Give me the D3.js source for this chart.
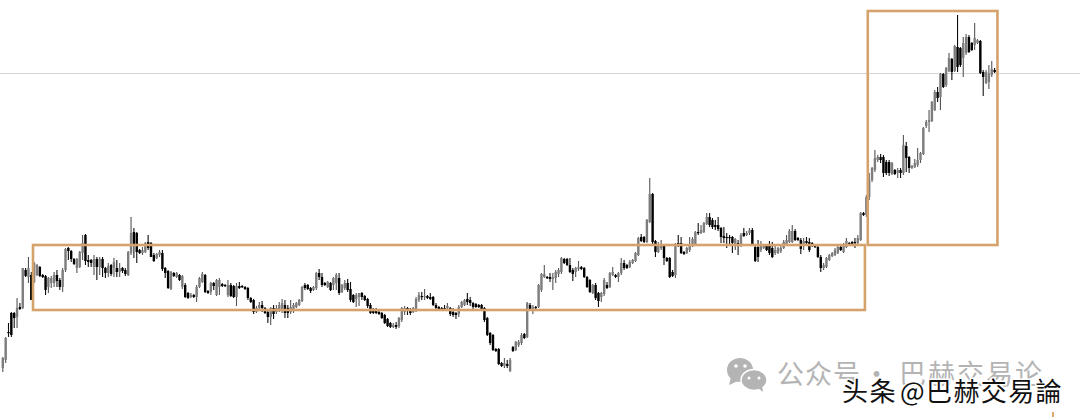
<!DOCTYPE html>
<html>
<head>
<meta charset="utf-8">
<script src="https://cdn.jsdelivr.net/npm/d3@7"></script>
<style>
  html, body { margin: 0; padding: 0; background: #fff; overflow: hidden; }
  svg { display: block; }
</style>
</head>
<body>
<div id="chartArea"></div>
<script>
// candle prices, one row = 10 candles
const opens = [
  49,57,85,104,104,100,110,109,147,140, 142,135,142,150,142,141,130,134,134,142,
  137,130,147,169,166,158,149,150,164,182, 157,157,150,158,150,158,149,144,152,149,
  149,145,149,147,142,164,185,184,167,164, 165,175,174,162,159,162,164,149,146,128,
  144,140,142,130,132,124,120,122,120,130, 135,142,126,125,134,122,130,133,132,122,
  132,131,120,131,131,130,129,119,117,105, 109,112,109,105,100,109,105,107,108,112,
  109,105,106,110,112,116,132,132,129,127, 129,144,140,134,130,134,132,134,139,125,
  129,134,128,122,118,120,124,121,118,112, 108,108,105,104,102,98,94,90,92,91,
  97,105,109,108,105,107,117,121,120,121, 120,120,112,110,109,109,109,109,105,104,
  103,110,112,118,117,114,113,112,112,109, 99,84,82,68,68,54,51,53,46,70,
  67,72,74,83,80,112,106,110,110,127, 140,140,140,138,139,143,145,158,158,152,
  147,145,148,150,149,140,137,124,132,124, 120,123,132,130,142,142,140,144,154,152,
  150,154,156,162,180,180,175,195,223,176, 165,169,171,159,159,145,142,174,174,165,
  164,167,172,173,185,184,185,193,200,197, 192,192,189,181,180,180,180,172,174,173,
  184,182,184,187,170,170,167,169,171,171, 169,164,164,166,169,173,175,175,186,179,
  177,173,176,175,174,171,170,160,149,150, 157,161,162,164,170,165,170,174,175,175,
  174,177,204,202,220,237,247,257,260,260, 255,255,243,247,244,247,244,271,260,249,
  250,252,257,263,291,295,296,307,325,320, 343,332,346,358,346,370,369,359,364,380,
  374,372,374,376,345,334,335,342,347
]
const highs = [
  60,80,94,105,105,119,114,149,149,160, 145,155,153,151,143,142,140,141,145,147,
  139,149,169,170,167,159,159,166,182,183, 162,158,162,160,160,160,150,154,153,159,
  157,154,150,149,166,200,189,185,168,170, 175,182,175,164,164,167,167,150,147,146,
  145,145,143,142,134,125,124,123,132,140, 145,143,127,135,135,138,139,134,133,137,
  134,132,134,135,132,131,130,120,118,111, 115,116,110,107,110,112,112,115,118,117,
  112,117,114,115,118,131,134,133,130,131, 145,148,144,135,136,135,140,144,144,133,
  137,138,135,123,124,124,125,122,119,114, 109,109,106,105,103,99,95,94,95,100,
  110,111,110,109,110,120,125,125,128,122, 124,121,114,111,110,112,114,110,109,105,
  112,116,118,124,120,115,114,113,113,110, 100,85,83,69,69,55,59,57,59,71,
  76,77,84,84,115,114,112,111,133,144, 152,141,144,144,147,149,160,159,159,159,
  149,150,156,151,150,141,138,133,134,125, 125,139,135,145,150,143,145,159,157,153,
  157,158,165,180,183,181,198,239,224,177, 175,177,172,160,160,147,174,182,180,166,
  170,180,180,186,194,192,195,204,204,199, 197,200,190,190,184,182,181,179,177,184,
  189,186,189,189,172,177,176,172,172,176, 175,172,170,172,177,182,188,192,188,180,
  179,179,180,179,175,172,171,162,154,160, 163,165,169,171,171,174,179,175,176,179,
  182,205,205,222,244,250,267,262,263,262, 257,257,255,248,249,249,282,275,261,252,
  258,269,265,290,297,307,316,327,330,344, 344,350,364,359,372,402,370,380,383,382,
  375,394,378,377,347,347,352,356,349
]
const lows = [
  45,54,80,80,89,89,107,108,140,134, 117,134,141,140,139,122,124,129,130,130,
  127,125,145,157,155,152,144,149,157,152, 150,150,142,137,142,140,139,140,141,140,
  140,140,144,141,141,162,159,154,163,162, 164,167,160,155,158,160,146,139,128,127,
  140,139,136,128,119,118,119,119,115,129, 134,124,123,122,127,121,122,130,130,120,
  120,119,111,128,129,127,117,114,103,104, 106,105,103,94,92,98,103,105,104,99,
  99,103,104,109,111,115,127,127,124,126, 127,137,130,131,129,126,127,127,122,124,
  127,125,115,114,110,111,117,116,109,103, 103,103,102,98,93,90,89,89,88,89,
  95,102,102,102,104,105,115,117,117,118, 117,111,106,107,107,106,107,101,100,98,
  100,109,111,112,111,107,109,109,107,95, 81,72,66,65,52,50,49,49,45,65,
  66,70,72,78,79,107,103,108,109,125, 139,138,135,127,134,140,143,153,151,144,
  136,140,146,147,139,129,124,123,117,110, 115,121,128,129,141,139,135,142,147,148,
  149,153,155,161,175,174,174,194,172,160, 164,167,152,155,139,140,139,170,163,162,
  163,165,170,172,182,183,184,192,190,188, 187,186,174,174,169,172,164,167,162,170,
  180,181,182,171,155,155,165,168,166,162, 159,162,163,164,168,171,174,174,176,176,
  163,167,172,165,170,169,159,145,147,149, 156,160,161,163,166,164,169,171,171,169,
  172,176,201,200,217,235,245,255,254,240, 242,241,242,242,239,239,242,245,244,248,
  249,250,254,262,289,285,295,306,315,307, 329,330,345,337,345,345,350,340,362,364,
  366,367,373,343,321,333,328,340,344
]
const closes = [
  59,79,84,82,99,109,108,149,141,149, 117,154,152,141,140,127,139,139,142,136,
  130,147,168,166,158,153,158,165,174,156, 155,154,158,150,158,149,144,151,143,155,
  145,149,146,143,165,184,172,165,164,167, 174,169,160,156,163,165,148,144,129,145,
  141,144,137,141,120,119,122,120,130,139, 143,125,124,134,131,137,137,131,131,132,
  121,120,131,129,130,128,119,115,105,109, 112,109,104,100,109,103,109,112,114,104,
  104,110,112,114,117,130,129,128,126,130, 144,140,132,132,135,127,139,142,124,132,
  134,127,117,115,122,124,120,117,111,104, 104,104,103,99,94,91,90,92,90,99,
  109,109,106,104,109,118,122,120,121,119, 118,112,109,108,108,108,111,103,102,102,
  110,115,117,115,114,110,110,110,108,97, 82,74,67,66,53,51,54,51,57,66,
  75,75,82,79,114,108,110,109,132,143, 143,139,138,140,145,147,159,154,152,145,
  143,149,150,148,140,130,125,132,119,116, 124,137,129,144,145,140,144,154,149,149,
  155,157,164,179,176,175,197,223,175,165, 172,172,159,156,140,141,173,172,164,163,
  169,172,178,185,184,187,194,200,192,190, 190,188,180,179,179,179,174,178,171,182,
  181,184,187,172,156,160,171,171,167,164, 160,167,169,169,175,177,186,186,177,177,
  168,176,174,167,171,170,160,149,152,159, 162,164,167,170,167,172,176,172,172,174,
  179,204,202,220,237,249,259,260,257,244, 244,244,254,243,247,244,272,259,249,251,
  254,257,264,289,295,297,315,325,319,343, 330,349,359,345,371,350,352,374,380,365,
  367,379,377,344,340,345,343,348,345
]

// range boxes and the horizontal level, in candle index / price
const boxStart = [10.6, 303.5]
const boxEnd = [302.5, 349]
const boxTop = [172, 406]
const boxBottom = [107, 172]
const levelPrice = 343.5

let width = 1080
let height = 417

const svg = d3.select('#chartArea')
              .append('svg')
              .attr('width', width)
              .attr('height', height)

// the source is a soft jpeg, so blur the marks a touch
const soft = svg.append('defs').append('filter')
                .attr('id', 'soft')
                .attr('x', '-5%').attr('y', '-5%')
                .attr('width', '110%').attr('height', '110%')
soft.append('feGaussianBlur').attr('stdDeviation', 0.35)

let x = d3.scaleLinear().domain([0, 348]).range([2.8, 994.6])
let y = d3.scaleLinear().domain([0, 417]).range([417, 0])

// level line sits behind everything
svg.append('line')
   .attr('x1', 0)
   .attr('x2', width)
   .attr('y1', y(levelPrice))
   .attr('y2', y(levelPrice))
   .attr('stroke', '#d8d6d2')
   .attr('stroke-width', 1)

const candle = svg.append('g')
                  .attr('filter', 'url(#soft)')
                  .selectAll('.candle')
                  .data(closes)
                  .enter().append('g')
                  .attr('class', 'candle')

candle.append('line')
      .attr('x1', function(d, i) { return x(i) })
      .attr('x2', function(d, i) { return x(i) })
      .attr('y1', function(d, i) { return y(highs[i]) })
      .attr('y2', function(d, i) { return y(lows[i]) })
      .attr('stroke', function(d, i) { return d >= opens[i] ? '#555' : '#111' })
      .attr('stroke-width', 1.1)

candle.append('rect')
      .attr('x', function(d, i) { return x(i) - 1.2 })
      .attr('width', 2.4)
      .attr('y', function(d, i) { return y(Math.max(d, opens[i])) })
      .attr('height', function(d, i) { return Math.max(1.2, Math.abs(y(d) - y(opens[i]))) })
      .attr('fill', function(d, i) { return d >= opens[i] ? '#7d7d7d' : '#000' })

svg.append('g')
   .attr('filter', 'url(#soft)')
   .selectAll('.box')
   .data(boxStart)
   .enter().append('rect')
   .attr('class', 'box')
   .attr('x', function(d) { return x(d) })
   .attr('width', function(d, i) { return x(boxEnd[i]) - x(d) })
   .attr('y', function(d, i) { return y(boxTop[i]) })
   .attr('height', function(d, i) { return y(boxBottom[i]) - y(boxTop[i]) })
   .attr('fill', 'none')
   .attr('stroke', '#d6a26c')
   .attr('stroke-width', 2.6)

// watermark: wechat icon, grey line, black line on top
const icon = svg.append('g').attr('fill', '#b4b4b4')
icon.append('ellipse').attr('cx', 740).attr('cy', 370).attr('rx', 13).attr('ry', 12)
icon.append('path').attr('d', 'M731 377 L729 385 L738 381 Z')
icon.append('ellipse').attr('cx', 754).attr('cy', 380).attr('rx', 13).attr('ry', 10.5)
    .attr('stroke', '#fff').attr('stroke-width', 1.5)
icon.append('path').attr('d', 'M758 388 L763 392 L762 385 Z')
icon.selectAll('.eye')
    .data([[736, 366, 1.8], [745, 366, 1.8], [749, 378, 1.5], [759, 378, 1.5]])
    .enter().append('circle')
    .attr('cx', function(d) { return d[0] })
    .attr('cy', function(d) { return d[1] })
    .attr('r', function(d) { return d[2] })
    .attr('fill', '#fff')

const grey = svg.append('text')
   .attr('x', 777)
   .attr('y', 384)
   .attr('font-family', '"Noto Sans CJK SC"')
   .attr('font-size', 27)
   .attr('letter-spacing', 1)
   .attr('fill', '#b4b4b4')
grey.append('tspan').text('公众号')
grey.append('tspan').attr('dx', 2).text('·')
grey.append('tspan').attr('dx', 8).attr('letter-spacing', 2).text('巴赫交易论')

const black = svg.append('text')
   .attr('x', 842)
   .attr('y', 401)
   .attr('font-family', '"Noto Sans CJK TC"')
   .attr('font-size', 26)
   .attr('letter-spacing', 1.4)
   .attr('word-spacing', -4)
   .attr('fill', '#111')
   .attr('stroke', '#fff')
   .attr('stroke-width', 3)
   .attr('paint-order', 'stroke')
black.text('头条 @巴赫交易論')

// little orange tick cut off by the bottom edge
svg.append('line')
   .attr('x1', 1053).attr('x2', 1053)
   .attr('y1', 412).attr('y2', 417)
   .attr('stroke', '#d98a3a')
   .attr('stroke-width', 1.5)
</script>
</body>
</html>
